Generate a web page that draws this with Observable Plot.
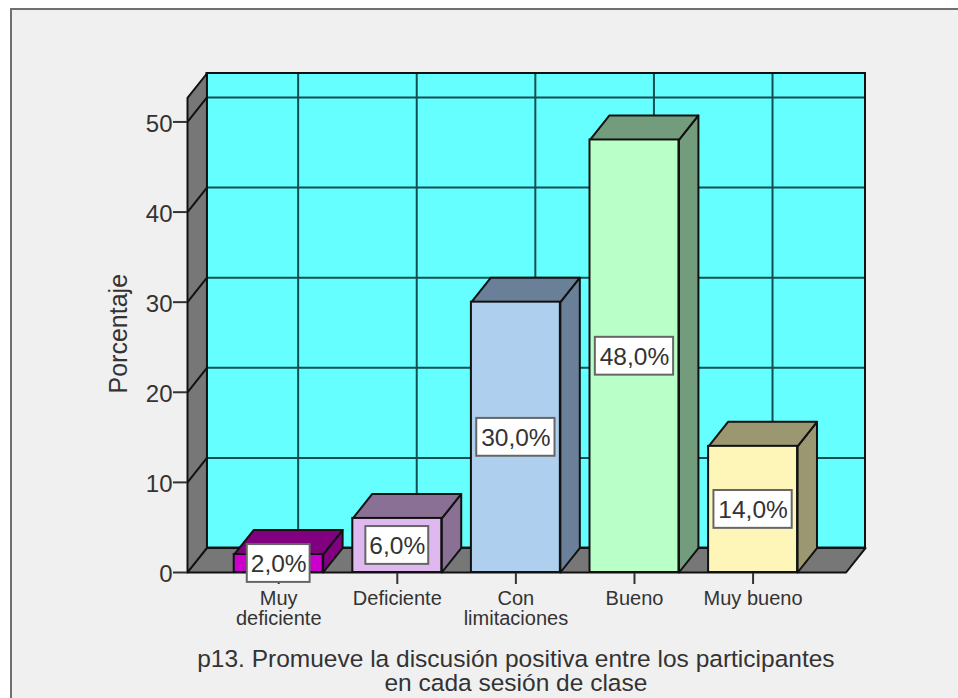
<!DOCTYPE html>
<html>
<head>
<meta charset="utf-8">
<script src="https://cdn.jsdelivr.net/npm/d3@7"></script>
<script src="https://cdn.jsdelivr.net/npm/@observablehq/plot@0.6"></script>
<style>
html,body{margin:0;padding:0;background:#fff;overflow:hidden}
#panel{position:absolute;left:10px;top:8px;right:0;bottom:0;background:#f0f0f0;border-left:2px solid #707070;border-top:2px solid #707070}
#chart{position:absolute;left:0;top:0}
#chart svg{display:block;background:transparent}
</style>
</head>
<body>
<div id="panel"></div>
<div id="chart"></div>
<script>
const categories = ["Muy\ndeficiente", "Deficiente", "Con\nlimitaciones", "Bueno", "Muy bueno"];
const percentages = [2, 6, 30, 48, 14];
const valueLabels = ["2,0%", "6,0%", "30,0%", "48,0%", "14,0%"];
const frontColors = ["#cc00cc", "#e0b8f0", "#aed0ee", "#b9ffc8", "#fdf6b8"];
const shadeColors = ["#800080", "#8a7094", "#6a8098", "#729c7c", "#9b9770"];
const yTicks = [0, 10, 20, 30, 40, 50];
const axisTitle = "Porcentaje";
const xTitle = "p13. Promueve la discusión positiva entre los participantes\nen cada sesión de clase";

// Projection parameters of the pseudo-3D box, in scale units
const depthX = 0.164, depthY = 2.716;
const barHalf = 0.375;
const xMin = -0.769, xMax = 4.784, frontTop = 52.66;
const idx = d3.range(categories.length);

const faces = [];
const poly = (id, fill, pts) => pts.concat([pts[0]]).forEach(([x, y]) => faces.push({id, fill, x, y}));
idx.forEach(i => {
  const v = percentages[i], l = i - barHalf, r = i + barHalf;
  poly("side" + i, shadeColors[i], [[r, 0], [r + depthX, depthY], [r + depthX, v + depthY], [r, v]]);
  poly("top" + i, shadeColors[i], [[l, v], [r, v], [r + depthX, v + depthY], [l + depthX, v + depthY]]);
});
const shell = [];
const shellPoly = (id, pts) => pts.concat([pts[0]]).forEach(([x, y]) => shell.push({id, x, y}));
shellPoly("left", [[xMin, 0], [xMin + depthX, depthY], [xMin + depthX, frontTop + depthY], [xMin, frontTop]]);
shellPoly("floor", [[xMin, 0], [xMax, 0], [xMax + depthX, depthY], [xMin + depthX, depthY]]);
const diagonals = yTicks.slice(1).map(v => ({v}));

const boxW = s => (s.length > 4 ? 0.33 : 0.265);
const boxH = 2.1;

const plot = Plot.plot({
  width: 958, height: 698,
  marginLeft: 187, marginRight: 93, marginTop: 73, marginBottom: 126,
  style: {fontFamily: "'Liberation Sans', Arial, sans-serif", background: "transparent", overflow: "visible"},
  x: {domain: [xMin, xMax + depthX], axis: null},
  y: {domain: [0, frontTop + depthY], axis: null},
  marks: [
    // back wall
    Plot.rect([0], {x1: xMin + depthX, x2: xMax + depthX, y1: depthY, y2: frontTop + depthY, fill: "#66ffff"}),
    Plot.ruleY(yTicks.slice(1), {y: v => v + depthY, x1: xMin + depthX, x2: xMax + depthX, stroke: "#124f52", strokeWidth: 2}),
    Plot.ruleX(idx, {x: i => i + depthX, y1: depthY, y2: frontTop + depthY, stroke: "#124f52", strokeWidth: 2}),
    Plot.rect([0], {x1: xMin + depthX, x2: xMax + depthX, y1: depthY, y2: frontTop + depthY, stroke: "#111", strokeWidth: 2}),
    // left wall and floor
    Plot.line(shell, {x: "x", y: "y", z: "id", fill: "#777777", stroke: "#111", strokeWidth: 2}),
    Plot.link(diagonals, {x1: xMin, y1: "v", x2: xMin + depthX, y2: d => d.v + depthY, stroke: "#111", strokeWidth: 2}),
    // ticks
    Plot.axisY({ticks: yTicks, tickSize: 14, text: null, label: null, stroke: "#333", strokeWidth: 2}),
    Plot.axisY({ticks: yTicks, tickSize: 0, tickPadding: 15, dy: 2, fontSize: 24, label: null, color: "#333"}),
    Plot.axisX({ticks: idx, tickFormat: i => categories[i], tickSize: 12, tickPadding: 6, fontSize: 20, lineHeight: 1, label: null, stroke: "#333", strokeWidth: 2, color: "#333"}),
    // bars
    Plot.line(faces, {x: "x", y: "y", z: "id", fill: "fill", stroke: "#111", strokeWidth: 2}),
    Plot.rect(idx, {x1: i => i - barHalf, x2: i => i + barHalf, y1: 0, y2: i => percentages[i], fill: i => frontColors[i], stroke: "#111", strokeWidth: 2}),
    // value labels
    Plot.rect(idx, {
      x1: i => i - boxW(valueLabels[i]), x2: i => i + boxW(valueLabels[i]),
      y1: i => percentages[i] / 2 - boxH, y2: i => percentages[i] / 2 + boxH,
      fill: "white", stroke: "#666", strokeWidth: 2
    }),
    Plot.text(idx, {x: i => i, y: i => percentages[i] / 2, text: i => valueLabels[i], dy: 1, fontSize: 24.5, fill: "#333"}),
    // titles
    Plot.text([axisTitle], {frameAnchor: "left", textAnchor: "middle", dx: -69, y: 26.5, rotate: -90, fontSize: 25, fill: "#333"}),
    Plot.text([xTitle], {x: 2, frameAnchor: "bottom", dy: 118, fontSize: 24.5, lineHeight: 0.95, fill: "#333"})
  ]
});
document.getElementById("chart").appendChild(plot);
</script>
</body>
</html>
